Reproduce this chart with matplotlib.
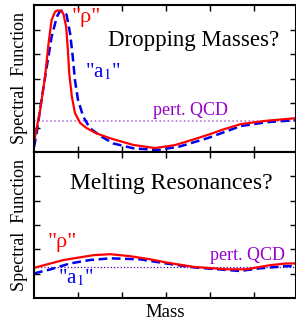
import matplotlib
matplotlib.use("Agg")
import matplotlib.pyplot as plt

plt.rcParams['font.family'] = ['Liberation Serif', 'DejaVu Serif']
plt.rcParams['mathtext.fontset'] = 'stix'

# panel oben: "Dropping Masses?"
rho_top_x = [0.0, 0.14, 0.25, 0.33, 0.40, 0.48, 0.54, 0.59, 0.64, 0.67, 0.73, 0.77, 0.80,
             0.86, 0.93, 1.05, 1.2, 1.42, 1.73, 2.25, 2.75, 3.2, 3.6, 3.95, 4.3, 4.7, 5.3, 5.95]
rho_top_y = [0.41, 1.71, 3.06, 4.43, 5.39, 5.73, 5.78, 5.77, 5.72, 5.62, 5.11, 4.16, 3.21,
             2.26, 1.59, 1.18, 0.97, 0.76, 0.56, 0.29, 0.16, 0.28, 0.5, 0.7, 0.92, 1.14, 1.28, 1.38]
a1_top_x = [0.0, 0.06, 0.17, 0.29, 0.40, 0.52, 0.58, 0.63, 0.69, 0.74, 0.82, 0.88, 0.93, 1.0,
            1.12, 1.27, 1.54, 1.8, 2.26, 2.8, 3.3, 3.95, 4.7, 5.3, 5.95]
a1_top_y = [0.2, 0.76, 2.12, 3.48, 4.7, 5.52, 5.72, 5.77, 5.72, 5.6, 4.84, 3.89, 2.94, 2.12,
            1.44, 0.97, 0.62, 0.35, 0.15, 0.08, 0.22, 0.57, 1.06, 1.22, 1.3]

# panel unten: "Melting Resonances?"
rho_bot_x = [0.0, 0.67, 1.35, 1.73, 2.18, 2.64, 3.0, 3.62, 4.38, 4.83, 5.36, 5.74, 5.95]
rho_bot_y = [1.24, 1.56, 1.76, 1.80, 1.72, 1.59, 1.46, 1.28, 1.18, 1.18, 1.35, 1.42, 1.42]
a1_bot_x = [0.0, 0.36, 0.82, 1.27, 1.73, 2.41, 3.0, 3.62, 4.38, 4.68, 5.14, 5.74, 5.95]
a1_bot_y = [1.01, 1.17, 1.42, 1.56, 1.63, 1.59, 1.42, 1.26, 1.15, 1.11, 1.22, 1.31, 1.32]

qcd = 1.26

ROJO = '#ff0000'
AZUL = '#0000ee'
VIOLETA = '#9900cc'

fig = plt.figure(figsize=(2.96, 3.22), dpi=100)
ax1 = fig.add_axes([34/296, 1-152/322, (295.5-34)/296, 147/322])
ax2 = fig.add_axes([34/296, 1-298/322, (295.5-34)/296, 146/322])

for ax in (ax1, ax2):
    ax.set_xlim(0, 5.94)
    ax.set_ylim(0, 6)
    ax.set_xticks([1, 2, 3, 4, 5])
    ax.set_yticks([1, 2, 3, 4, 5])
    ax.tick_params(direction='in', length=4, width=1, top=True, right=True,
                   labelbottom=False, labelleft=False)
    for s in ax.spines.values():
        s.set_linewidth(1.5)
    ax.set_ylabel('Spectral  Function', fontsize=13, labelpad=4)

# arriba
ax1.axhline(qcd, color='#b060e0', lw=1.1, ls=':')
ax1.plot(a1_top_x, a1_top_y, color=AZUL, lw=1.8, ls=(0, (3.5, 1.8)))
ax1.plot(rho_top_x, rho_top_y, color=ROJO, lw=1.6)
ax1.text(0.86, 5.5, '"ρ"', color=ROJO, fontsize=16, va='center')
ax1.text(1.16, 3.27, '"a$_1$"', color=AZUL, fontsize=15, va='center')
ax1.text(3.63, 4.57, 'Dropping Masses?', fontsize=16.5, ha='center', va='center')
ax1.text(2.7, 1.71, 'pert. QCD', color=VIOLETA, fontsize=13, va='center')

# abajo
ax2.axhline(qcd, color='#5500aa', lw=0.9, ls=':')
ax2.plot(a1_bot_x, a1_bot_y, color=AZUL, lw=1.8, ls=(0, (3.5, 1.8)))
ax2.plot(rho_bot_x, rho_bot_y, color=ROJO, lw=1.6)
ax2.text(0.3, 2.3, '"ρ"', color=ROJO, fontsize=16, va='center')
ax2.text(0.55, 0.82, '"a$_1$"', color=AZUL, fontsize=15, va='center')
ax2.text(3.125, 4.71, 'Melting Resonances?', fontsize=17, ha='center', va='center')
ax2.text(4.0, 1.76, 'pert. QCD', color=VIOLETA, fontsize=13, va='center')
ax2.set_xlabel('Mass', fontsize=13.5, labelpad=4)

fig.savefig('out.png', dpi=100)
